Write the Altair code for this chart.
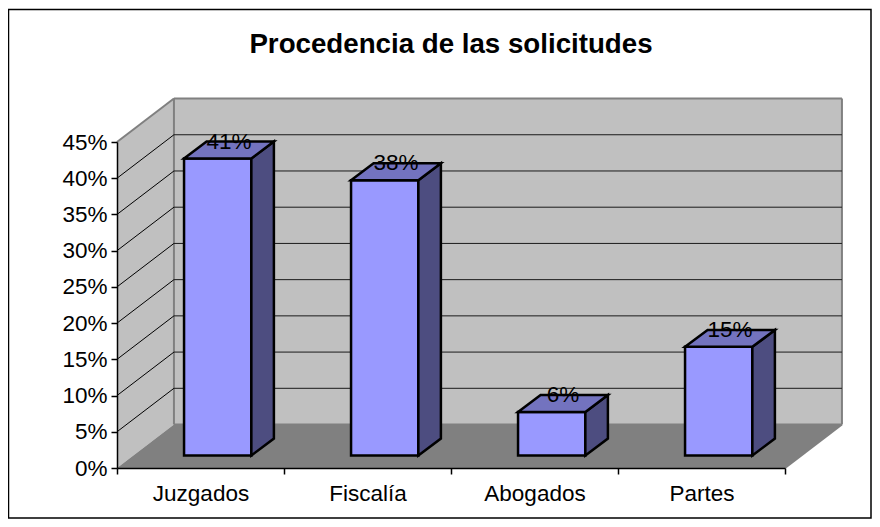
import altair as alt
import pandas as pd

categories = ["Juzgados", "Fiscalía", "Abogados", "Partes"]
values = [41, 38, 6, 15]
y_ticks = [0, 5, 10, 15, 20, 25, 30, 35, 40, 45]
title_text = "Procedencia de las solicitudes"

# 3-D projection expressed in data units (category widths / percent points)
WALL_DX, WALL_DY = 0.341, 6.0
BAR_DX, BAR_DY = 0.135, 2.34
BASE_DX, BASE_DY = 0.103, 1.72
BAR_W = 0.403
N = len(categories)
YMAX = 45

PLOT_W, PLOT_H = 668, 326
PAD_L, PAD_T = 109, 134
TOTAL_W, TOTAL_H = 864, 511

FONT = "Liberation Sans"
WALL = "#c0c0c0"
EDGE = "#808080"
FLOOR = "#808080"
FRONT = "#9999ff"
SIDE = "#4d4d80"
TOP = "#7373bf"

yaxis = alt.Axis(values=y_ticks, labelExpr="datum.value + '%'", grid=False, title=None, labelOverlap=False,
                 domainColor="black", tickColor="black", tickSize=6, domainWidth=1.5, tickWidth=1.5,
                 labelFont=FONT, labelFontSize=22.5, labelColor="black", labelPadding=4, zindex=2)

xs = alt.Scale(domain=[0, N], nice=False, zero=False)
ys = alt.Scale(domain=[0, YMAX], nice=False, zero=False)
X = lambda f: alt.X(f, type="quantitative", scale=xs, axis=None)
Y = lambda f: alt.Y(f, type="quantitative", scale=ys, axis=yaxis)

rows = []
for i, (c, v) in enumerate(zip(categories, values)):
    xl = i + 0.5 - BAR_W / 2 + BASE_DX
    xr = xl + BAR_W
    yb = BASE_DY
    yt = BASE_DY + v
    rows.append(dict(cat=c, v=v, xl=xl, xr=xr, yb=yb, yt=yt, label=f"{v}%"))
bars = pd.DataFrame(rows)

# bar faces
side = pd.concat([
    bars.assign(px=bars.xr, p0=bars.yb, p1=bars.yt),
    bars.assign(px=bars.xr + BAR_DX, p0=bars.yb + BAR_DY, p1=bars.yt + BAR_DY),
])
top = pd.concat([
    bars.assign(py=bars.yt, p0=bars.xl, p1=bars.xr),
    bars.assign(py=bars.yt + BAR_DY, p0=bars.xl + BAR_DX, p1=bars.xr + BAR_DX),
])
labels = bars.assign(lx=bars.xl + BAR_W / 2 + BAR_DX / 2, ly=bars.yt + BAR_DY)

grid = pd.DataFrame({"v": y_ticks})
grid["vb"] = grid.v + WALL_DY
grid["x0"] = 0.0
grid["x1"] = WALL_DX
grid["x2"] = WALL_DX + N

back = pd.DataFrame([dict(x0=WALL_DX, x1=WALL_DX + N, y0=WALL_DY, y1=WALL_DY + YMAX)])
left = pd.DataFrame([dict(px=0.0, p0=0.0, p1=float(YMAX)),
                     dict(px=WALL_DX, p0=WALL_DY, p1=WALL_DY + YMAX)])
floor = pd.DataFrame([dict(py=0.0, p0=0.0, p1=float(N)),
                      dict(py=WALL_DY, p0=WALL_DX, p1=WALL_DX + N)])
# wall outline segments
edges = pd.DataFrame([
    dict(x0=0.0, y0=float(YMAX), x1=WALL_DX, y1=WALL_DY + YMAX),
    dict(x0=WALL_DX, y0=WALL_DY + YMAX, x1=WALL_DX + N, y1=WALL_DY + YMAX),
    dict(x0=WALL_DX + N, y0=WALL_DY + YMAX, x1=WALL_DX + N, y1=WALL_DY),
    dict(x0=WALL_DX, y0=WALL_DY + YMAX, x1=WALL_DX, y1=WALL_DY),
    dict(x0=WALL_DX, y0=WALL_DY, x1=WALL_DX + N, y1=WALL_DY),
    dict(x0=float(N), y0=0.0, x1=WALL_DX + N, y1=WALL_DY),
])
px_x, px_y = N / PLOT_W, YMAX / PLOT_H
frame = pd.DataFrame([dict(x0=-PAD_L * px_x + 0.5 * px_x,
                           x1=(TOTAL_W - PAD_L) * px_x - 1.0 * px_x,
                           y0=YMAX + PAD_T * px_y - 1.5 * px_y,
                           y1=YMAX - (TOTAL_H - PAD_T) * px_y + 1.0 * px_y)])

frame_layer = alt.Chart(frame).mark_rect(fill="white", stroke="black", strokeWidth=1.5).encode(
    x=X("x0"), x2="x1", y=Y("y0"), y2="y1")
back_layer = alt.Chart(back).mark_rect(fill=WALL).encode(x=X("x0"), x2="x1", y=Y("y0"), y2="y1")
left_layer = alt.Chart(left).mark_area(fill=WALL, orient="vertical").encode(x=X("px"), y=Y("p0"), y2="p1")
floor_layer = alt.Chart(floor).mark_area(fill=FLOOR, orient="horizontal").encode(y=Y("py"), x=X("p0"), x2="p1")
edge_layer = alt.Chart(edges).mark_rule(color=EDGE, strokeWidth=2).encode(
    x=X("x0"), x2="x1", y=Y("y0"), y2="y1")
g = grid[(grid.v > 0) & (grid.v < YMAX)]
grid_back = alt.Chart(g).mark_rule(color="#1a1a1a", strokeWidth=1).encode(x=X("x1"), x2="x2", y=Y("vb"))
grid_left = alt.Chart(g).mark_rule(color="#000000", strokeWidth=1).encode(
    x=X("x0"), x2="x1", y=Y("v"), y2="vb")

front_layer = alt.Chart(bars).mark_rect(fill=FRONT, stroke="black", strokeWidth=2.5).encode(
    x=X("xl"), x2="xr", y=Y("yb"), y2="yt")
side_layer = alt.Chart(side).mark_area(fill=SIDE, stroke="black", strokeWidth=2.5, orient="vertical").encode(
    x=X("px"), y=Y("p0"), y2="p1", detail="cat:N")
top_layer = alt.Chart(top).mark_area(fill=TOP, stroke="black", strokeWidth=2.5, orient="horizontal").encode(
    y=Y("py"), x=X("p0"), x2="p1", detail="cat:N")
label_layer = alt.Chart(labels).mark_text(font=FONT, fontSize=22.5, color="black", baseline="middle").encode(
    x=X("lx"), y=Y("ly"), text="label:N")

xaxis_layer = alt.Chart(bars).mark_point(opacity=0).encode(
    x=alt.X("cat:N", sort=categories, scale=alt.Scale(domain=categories, paddingInner=0, paddingOuter=0),
            axis=alt.Axis(orient="bottom", title=None, labelAngle=0, tickBand="extent", domainColor="black",
                          tickColor="black", tickSize=6, domainWidth=1.5, tickWidth=1.5,
                          labelFont=FONT, labelFontSize=22.5, labelColor="black",
                          labelPadding=8, zindex=2, grid=False)),
    y=alt.value(PLOT_H))

chart = alt.layer(
    frame_layer, back_layer, left_layer, floor_layer, edge_layer, grid_back, grid_left,
    xaxis_layer,
    front_layer, side_layer, top_layer, label_layer,
).resolve_scale(x="independent").properties(
    width=PLOT_W, height=PLOT_H,
    title=alt.TitleParams(title_text, font=FONT, fontSize=27.7, fontWeight="bold", color="black",
                          anchor="middle", offset=-50),
    autosize=alt.AutoSizeParams(type="none"),
    padding={"left": PAD_L, "top": PAD_T, "right": TOTAL_W - PAD_L - PLOT_W, "bottom": TOTAL_H - PAD_T - PLOT_H},
).configure_view(stroke=None)

chart.save("out.html", embed_options={"renderer": "svg", "actions": False})
